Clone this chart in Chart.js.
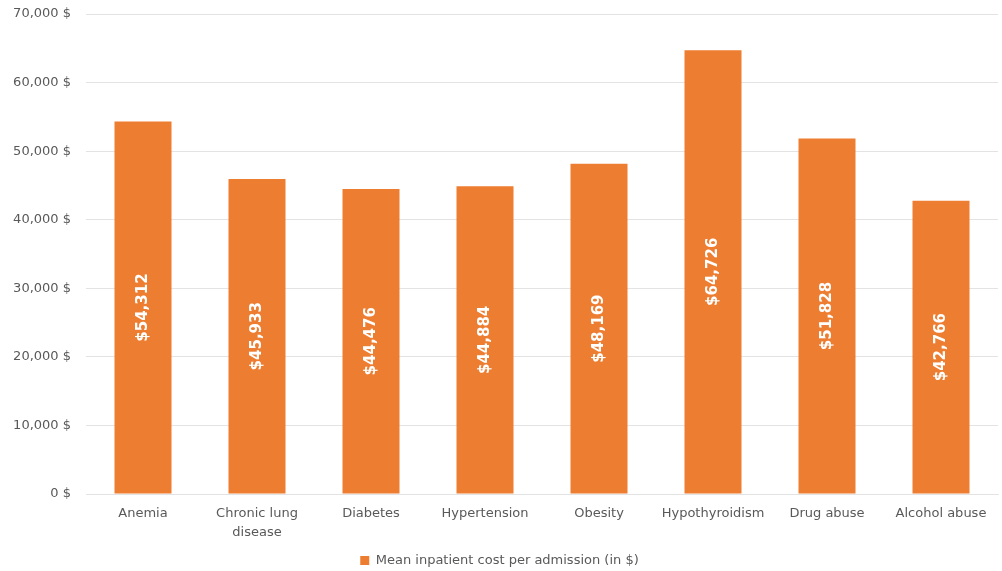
<!DOCTYPE html>
<html>
<head>
<meta charset="utf-8">
<script src="https://cdn.jsdelivr.net/npm/chart.js@4"></script>
<style>
  html, body { margin: 0; padding: 0; background: #fff; }
  #wrap { width: 1002px; height: 571px; position: relative; }
</style>
</head>
<body>
<div id="wrap"><canvas id="costChart"></canvas></div>
<script>
const categories = ['Anemia', ['Chronic lung', 'disease'], 'Diabetes', 'Hypertension', 'Obesity', 'Hypothyroidism', 'Drug abuse', 'Alcohol abuse'];
const meanCost = [54312, 45933, 44476, 44884, 48169, 64726, 51828, 42766];
const seriesName = 'Mean inpatient cost per admission (in $)';

const textColor = '#595959';
const fontFamily = '"DejaVu Sans", Verdana, sans-serif';

// draws the rotated value inside each bar
const barLabels = {
    id: 'barLabels',
    afterLayout(chart) {
        // push the legend a bit lower, closer to the bottom edge
        if (chart.legend) {
            chart.legend.top += 6;
            chart.legend.bottom += 6;
        }
    },
    afterDatasetsDraw(chart) {
        const ctx = chart.ctx;
        const meta = chart.getDatasetMeta(0);
        ctx.save();
        ctx.fillStyle = '#ffffff';
        ctx.font = 'bold 15px ' + fontFamily;
        ctx.textAlign = 'center';
        ctx.textBaseline = 'middle';
        meta.data.forEach((bar, i) => {
            const cy = (bar.y + bar.base) / 2;
            ctx.save();
            ctx.translate(bar.x, cy);
            ctx.rotate(-Math.PI / 2);
            ctx.fillText('$' + meanCost[i].toLocaleString('en-US'), 0, 0);
            ctx.restore();
        });
        ctx.restore();
    }
};

new Chart(document.getElementById('costChart'), {
    type: 'bar',
    data: {
        labels: categories,
        datasets: [{
            label: seriesName,
            data: meanCost,
            backgroundColor: '#ed7d31',
            borderWidth: 0,
            categoryPercentage: 1,
            barPercentage: 0.5
        }]
    },
    options: {
        responsive: true,
        maintainAspectRatio: false,
        animation: false,
        layout: { padding: { left: 1, right: 4, top: 14, bottom: 0 } },
        scales: {
            y: {
                min: 0,
                max: 70000,
                afterFit: scale => { scale.width = 85; scale.paddingTop = 0; scale.paddingBottom = 0; },
                ticks: {
                    stepSize: 10000,
                    color: textColor,
                    font: { family: fontFamily, size: 13 },
                    padding: 15,
                    callback: v => v.toLocaleString('en-US') + ' $'
                },
                grid: { color: '#e3e3e3', drawTicks: false },
                border: { display: false }
            },
            x: {
                afterFit: scale => { scale.height = 54; },
                ticks: {
                    color: textColor,
                    font: { family: fontFamily, size: 13, lineHeight: 1.4 },
                    padding: 3,
                    maxRotation: 0
                },
                grid: { display: false },
                border: { display: true, color: '#e3e3e3' }
            }
        },
        plugins: {
            legend: {
                position: 'bottom',
                labels: {
                    color: textColor,
                    font: { family: fontFamily, size: 13 },
                    boxWidth: 9,
                    boxHeight: 9,
                    padding: 0
                }
            },
            tooltip: { enabled: false }
        }
    },
    plugins: [barLabels]
});
</script>
</body>
</html>
